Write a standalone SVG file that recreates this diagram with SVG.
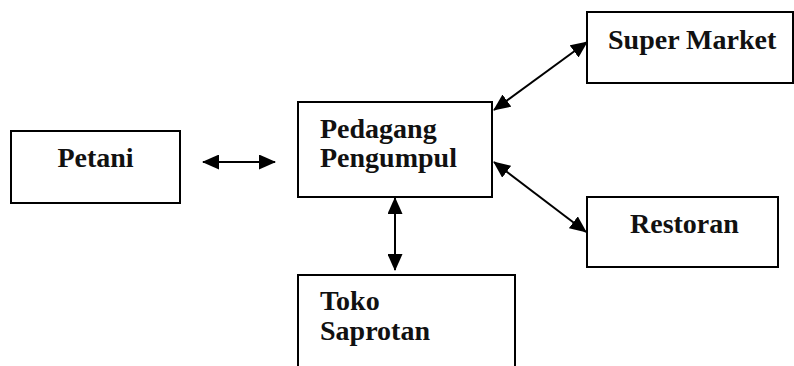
<svg xmlns="http://www.w3.org/2000/svg" width="794" height="366" viewBox="0 0 794 366">
<style>
.box{fill:#fff;stroke:#000;stroke-width:2}
.lbl{font-family:"Liberation Serif","Times New Roman",serif;font-weight:bold;font-size:28px;fill:#111}
.conn{stroke:#000;stroke-width:2;fill:none;marker-start:url(#ah);marker-end:url(#ah)}
</style>
<defs>
<marker id="ah" markerUnits="userSpaceOnUse" markerWidth="17" markerHeight="15" refX="16" refY="7.5" orient="auto-start-reverse" viewBox="0 0 17 15">
<path d="M0,0 L17,7.5 L0,15 Z" fill="#000"/>
</marker>
</defs>
<rect width="794" height="366" fill="#fff"/>
<g id="petani">
<rect class="box" x="11" y="131" width="169" height="72"/>
<text class="lbl" x="95.5" y="167" text-anchor="middle">Petani</text>
</g>
<g id="pedagang">
<rect class="box" x="298" y="102" width="194" height="95"/>
<text class="lbl" x="320" y="138">Pedagang</text>
<text class="lbl" x="320" y="167">Pengumpul</text>
</g>
<g id="supermarket">
<rect class="box" x="587" y="12" width="206" height="71"/>
<text class="lbl" x="608" y="49">Super Market</text>
</g>
<g id="restoran">
<rect class="box" x="587" y="197" width="191" height="70"/>
<text class="lbl" x="630" y="233">Restoran</text>
</g>
<g id="toko">
<rect class="box" x="298" y="275" width="217" height="100"/>
<text class="lbl" x="320" y="310">Toko</text>
<text class="lbl" x="320" y="340">Saprotan</text>
</g>
<g id="connectors">
<path class="conn" d="M203,162 L275,162"/>
<path class="conn" d="M494,110 L587,42"/>
<path class="conn" d="M494,162 L586,232"/>
<path class="conn" d="M395,198 L395,270"/>
</g>
</svg>
